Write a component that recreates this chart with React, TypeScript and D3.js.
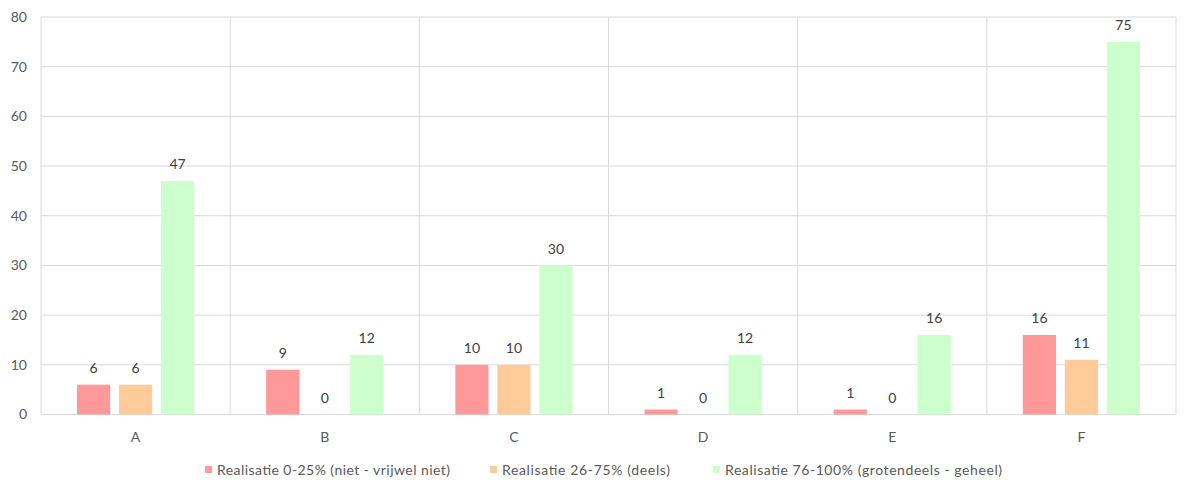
import React from "react";
import * as d3 from "d3";

const categories = ["A", "B", "C", "D", "E", "F"];
const seriesNames = [
  "Realisatie 0-25% (niet - vrijwel niet)",
  "Realisatie 26-75% (deels)",
  "Realisatie 76-100% (grotendeels - geheel)",
];
const low = [6, 9, 10, 1, 1, 16];
const mid = [6, 0, 10, 0, 0, 11];
const high = [47, 12, 30, 12, 16, 75];
const yTicks = [0, 10, 20, 30, 40, 50, 60, 70, 80];
const colors = ["#FF9999", "#FFCC99", "#CCFFCC"];

const W = 1184;
const H = 482;
const left = 41;
const right = 1176;
const top = 17;
const bottom = 414.5;
const font = "Lato, 'Open Sans', sans-serif";

export default function App() {
  const series = [low, mid, high];
  const x = d3.scaleBand<string>().domain(categories).range([left, right]).padding(0);
  const x1 = d3
    .scaleBand<number>()
    .domain([0, 1, 2])
    .range([36, x.bandwidth() - 36])
    .paddingInner(0.21);
  const y = d3.scaleLinear().domain([0, 80]).range([bottom, top]);
  const legendX = [205, 490, 713];
  const legendW = [233, 168, 277];

  return (
    <svg width={W} height={H} style={{ position: "absolute", left: 0, top: 0 }}>
      <rect x={0} y={0} width={W} height={H} fill="#fff" />
      {yTicks.map((t) => (
        <g key={t}>
          <line x1={left} x2={right} y1={y(t)} y2={y(t)} stroke="#d9d9d9" strokeWidth={1} />
          <text x={27} y={y(t)} dy="0.35em" textAnchor="end" fontFamily={font} fontSize={14} fill="#595959">
            {t}
          </text>
        </g>
      ))}
      {categories.map((c) => (
        <line key={"v" + c} x1={x(c)!} x2={x(c)!} y1={top} y2={bottom} stroke="#d9d9d9" strokeWidth={1} />
      ))}
      <line x1={right} x2={right} y1={top} y2={bottom} stroke="#d9d9d9" strokeWidth={1} />
      {categories.map((c, i) => (
        <g key={c}>
          {series.map((s, k) => {
            const bx = x(c)! + x1(k)!;
            const by = y(s[i]);
            return (
              <g key={k}>
                <rect x={bx} y={by} width={x1.bandwidth()} height={bottom - by} fill={colors[k]} />
                <text
                  x={bx + x1.bandwidth() / 2}
                  y={by - 16.5}
                  dy="0.35em"
                  textAnchor="middle"
                  fontFamily={font}
                  fontSize={14}
                  fill="#404040"
                >
                  {s[i]}
                </text>
              </g>
            );
          })}
          <text
            x={x(c)! + x.bandwidth() / 2}
            y={437}
            dy="0.35em"
            textAnchor="middle"
            fontFamily={font}
            fontSize={14}
            fill="#595959"
          >
            {c}
          </text>
        </g>
      ))}
      {seriesNames.map((n, k) => (
        <g key={n}>
          <rect x={legendX[k]} y={466} width={7} height={7} fill={colors[k]} />
          <text
            x={legendX[k] + 12}
            y={470}
            dy="0.35em"
            fontFamily={font}
            fontSize={14}
            fill="#595959"
            textLength={legendW[k]}
            lengthAdjust="spacing"
          >
            {n}
          </text>
        </g>
      ))}
    </svg>
  );
}
